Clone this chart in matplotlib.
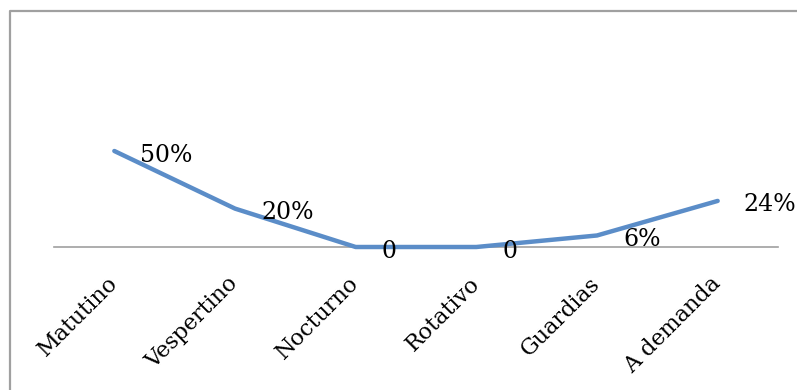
import numpy as np
import matplotlib
matplotlib.use("Agg")
from matplotlib import pyplot as plt
from matplotlib.lines import Line2D

# Chart data
categories = ["Matutino", "Vespertino", "Nocturno", "Rotativo", "Guardias", "A demanda"]
values = [50, 20, 0, 0, 6, 24]
value_labels = ["50%", "20%", "0", "0", "6%", "24%"]

W, H = 797, 390
fig = plt.figure(figsize=(W / 100.0, H / 100.0), dpi=100)

# outer frame, only top and left edges visible in the reference
fx = 9.5 / W
fy = 1 - 10.5 / H
fig.lines.append(Line2D([fx, fx, 1.05], [-0.05, fy, fy], transform=fig.transFigure,
                        color="#a0a0a0", linewidth=1.6))

ax = fig.add_axes([54.0 / W, (H - 247.0) / H, 724.0 / W, 192.0 / H])
ax.set_xlim(-0.5, 5.5)
ax.set_ylim(0, 100)
ax.patch.set_visible(False)
for side in ["top", "right", "left"]:
    ax.spines[side].set_visible(False)
ax.spines["bottom"].set_color("#a0a0a0")
ax.spines["bottom"].set_linewidth(1.2)
ax.set_yticks([])

xAxis = np.arange(len(categories))
ax.plot(xAxis, values, color="#5b8dc8", linewidth=3.2, solid_capstyle="round",
        solid_joinstyle="round", clip_on=False, zorder=3)

for i in range(len(values)):
    ax.annotate(value_labels[i], (xAxis[i], values[i]), xytext=(26, -4),
                textcoords="offset pixels", ha="left", va="center", color="#000000",
                annotation_clip=False, family="DejaVu Serif", fontsize=17)

ax.set_xticks(xAxis)
ax.set_xticklabels(categories, rotation=45, ha="right", va="center",
                   rotation_mode="anchor", family="DejaVu Serif", fontsize=16)
ax.tick_params(axis="x", length=0, pad=24)

plt.savefig("out.png", dpi=100)
